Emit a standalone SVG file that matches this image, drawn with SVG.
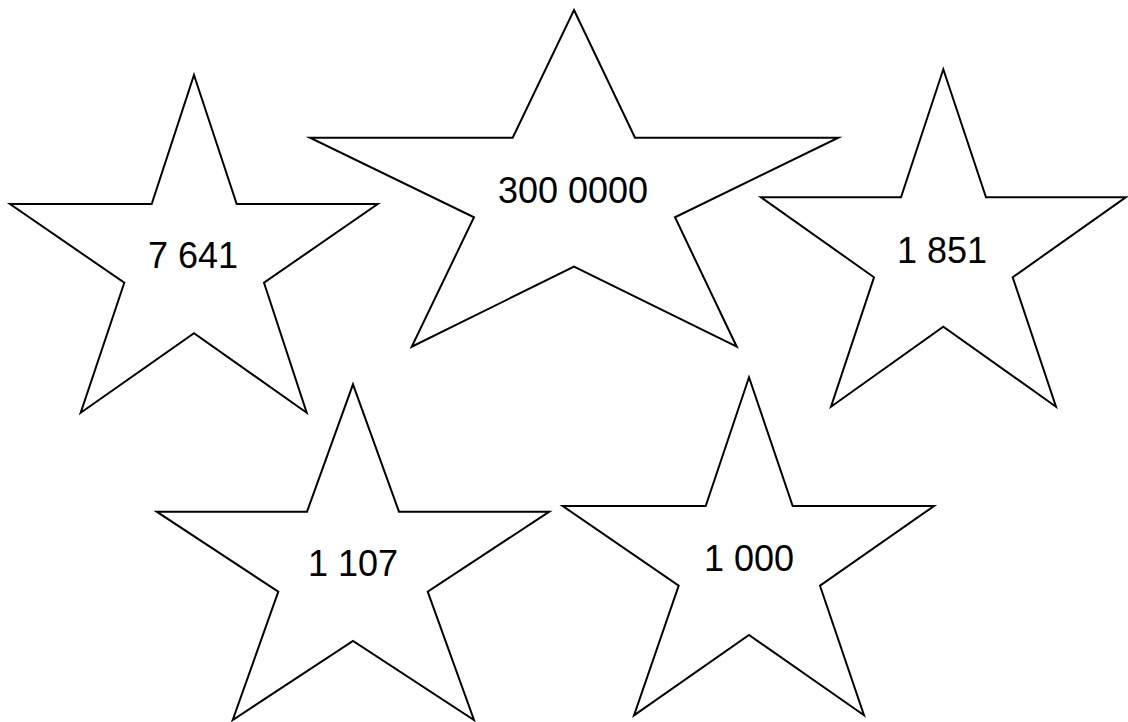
<svg xmlns="http://www.w3.org/2000/svg" width="1128" height="722" viewBox="0 0 1128 722">
<style>
.star{fill:#ffffff;stroke:#000000;stroke-width:2;stroke-linejoin:miter;stroke-miterlimit:10}
.lbl{font-family:"Liberation Sans",Arial,sans-serif;font-size:36px;fill:#000000;text-anchor:middle}
</style>
<rect width="1128" height="722" fill="#ffffff"/>
<g id="star-7641">
<polygon class="star" points="194,75 236.7,204 377.7,204 264,282.7 306.7,412.7 194,333.3 80.7,412.7 124.3,282.7 10,204 151.7,204"/>
<text class="lbl" x="193" y="268">7 641</text>
</g>
<g id="star-3000000">
<polygon class="star" points="574,10 635,137.7 838.3,137.7 675,217.3 736.7,346.7 574,266.7 411.7,346.7 474,217.3 310,137.7 512.7,137.7"/>
<text class="lbl" x="573" y="202.7">300 0000</text>
</g>
<g id="star-1851">
<polygon class="star" points="943.3,69.3 986,197.3 1125.7,197.3 1012.7,277.3 1056,406.7 943.3,326.7 831,406.7 874,277.3 761,197.3 901,197.3"/>
<text class="lbl" x="942" y="262.7">1 851</text>
</g>
<g id="star-1107">
<polygon class="star" points="353,384.3 399,511.7 549.3,511.7 427.7,591.7 474,720 353,641 232.7,720 278.3,591.7 156.7,511.7 307,511.7"/>
<text class="lbl" x="353" y="576">1 107</text>
</g>
<g id="star-1000">
<polygon class="star" points="749,377.3 792.7,506 934,506 820,585.7 864,715.3 749,635 634,715.3 678.7,585.7 562.7,506 705.7,506"/>
<text class="lbl" x="749" y="571">1 000</text>
</g>
<g id="connectors"></g>
</svg>
